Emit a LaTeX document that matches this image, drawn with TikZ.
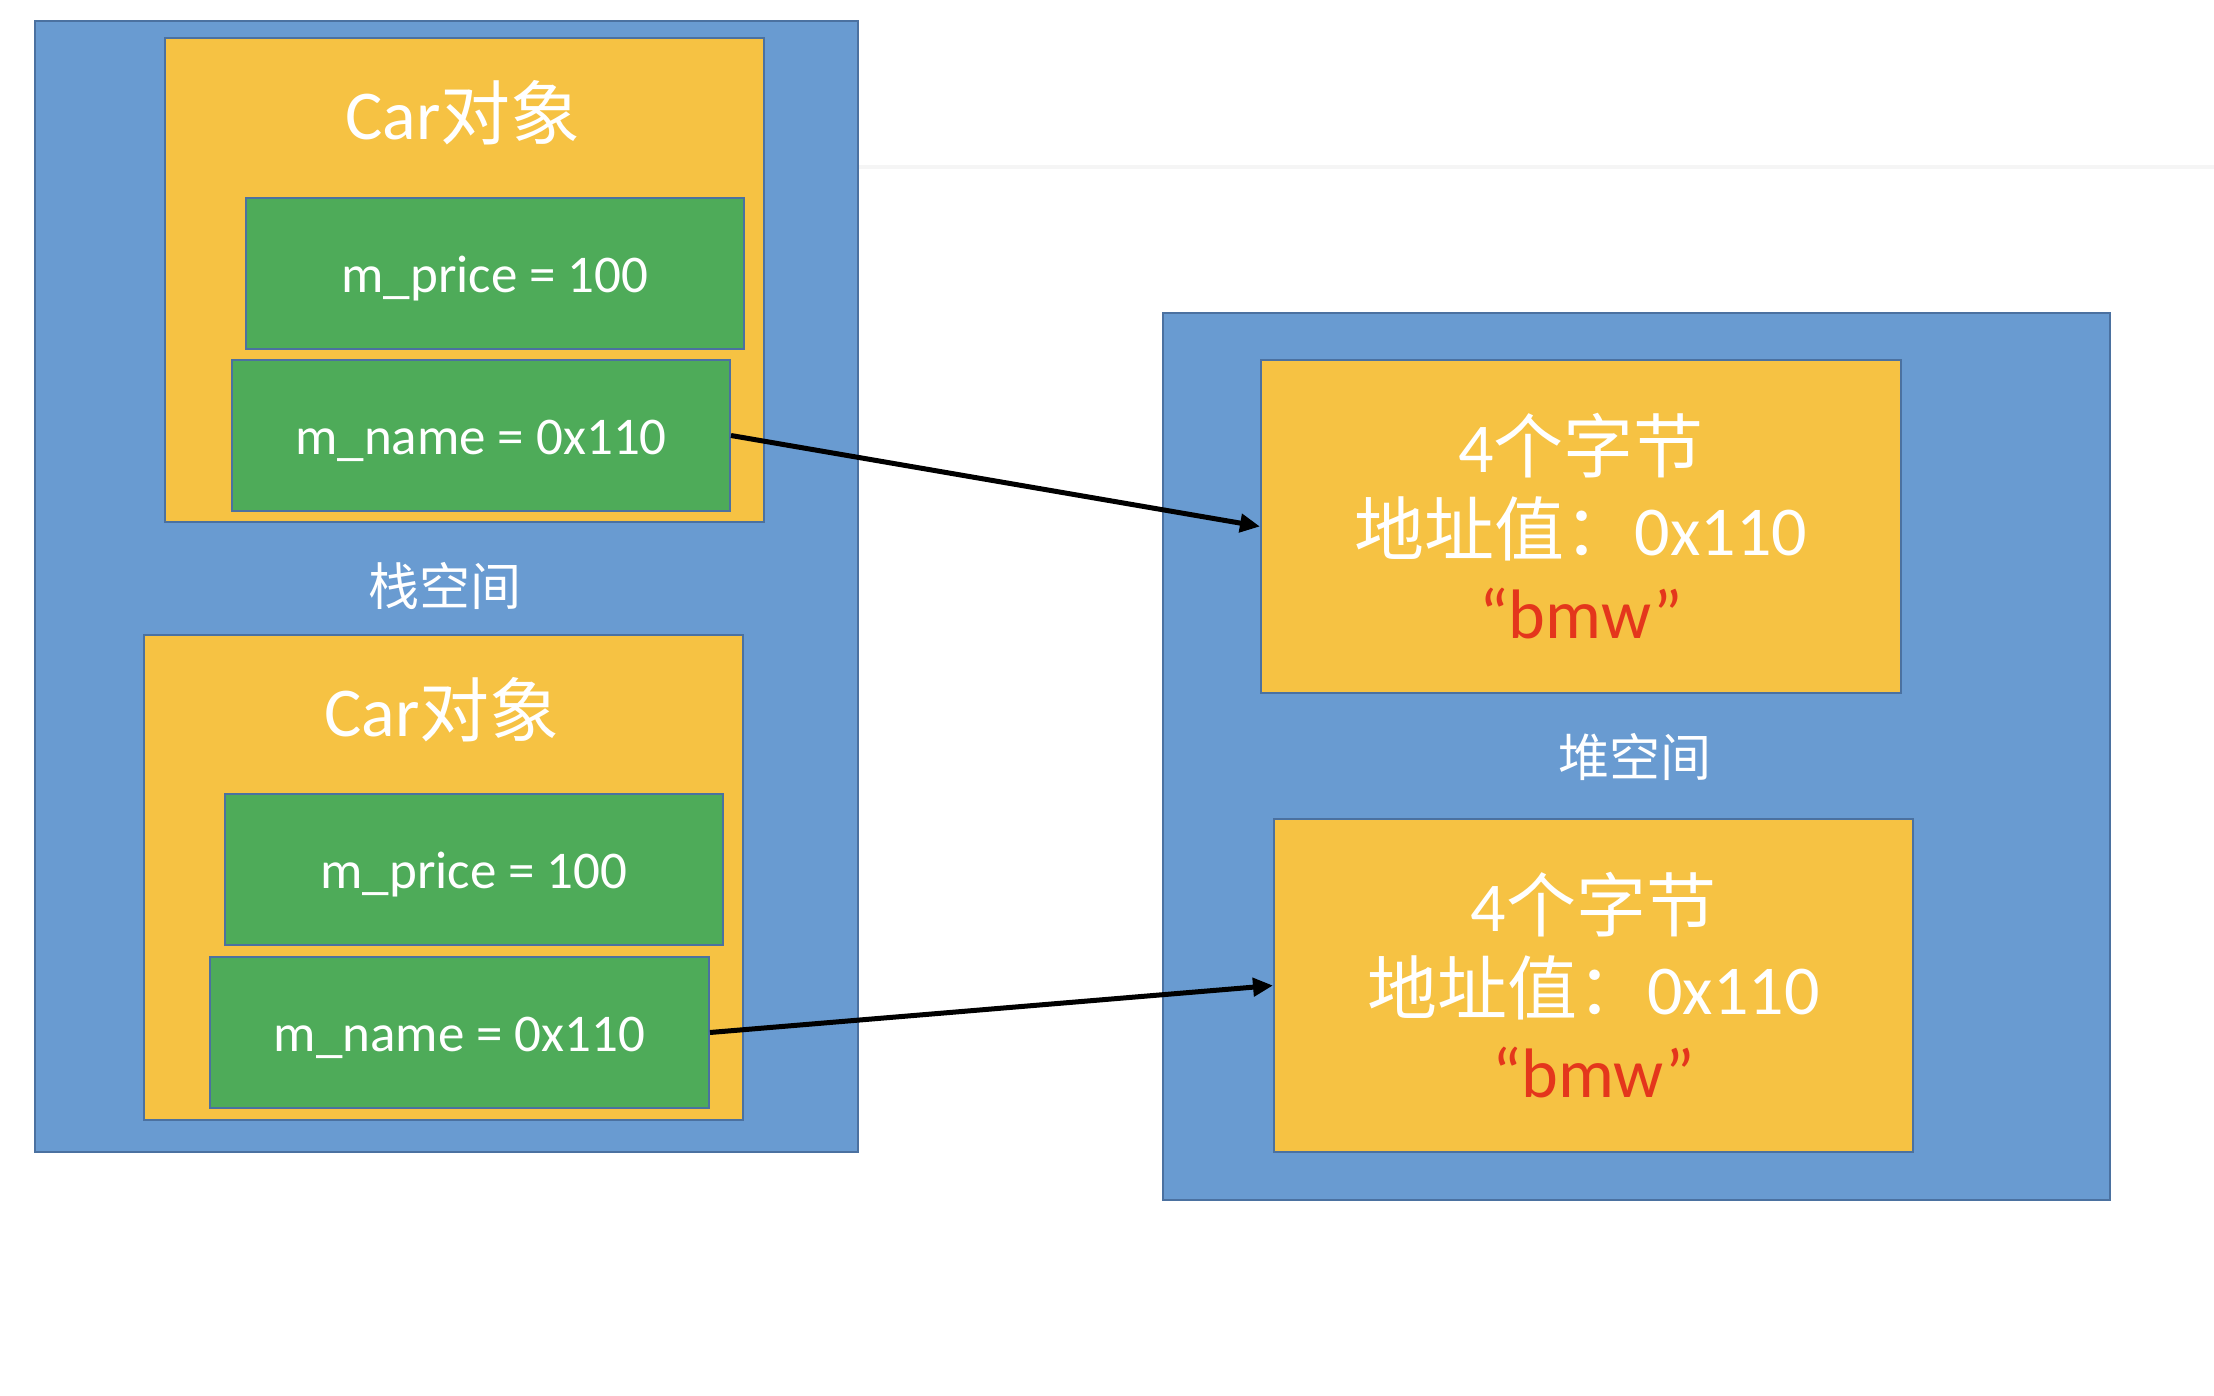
\documentclass[tikz,border=0pt]{standalone}
\usepackage{fontspec}
\setmainfont{Carlito}
\newfontfamily\cjk{Noto Sans CJK SC}
\usetikzlibrary{arrows.meta}
\definecolor{bluebg}{HTML}{699BD1}
\definecolor{yel}{HTML}{F6C243}
\definecolor{grn}{HTML}{4EAB59}
\definecolor{edge}{HTML}{4B71A0}
\definecolor{redtxt}{HTML}{E4361C}
\begin{document}
\begin{tikzpicture}[x=1pt,y=-1pt,
  box/.style={draw=edge, line width=2pt, inner sep=0pt, rectangle},
  space/.style={box, fill=bluebg},
  obj/.style={box, fill=yel},
  field/.style={box, fill=grn},
  ftxt/.style={text=white, inner sep=0pt, yshift=-5pt, font=\fontsize{53}{60}\selectfont},
  heapobj/.style={box, fill=yel, text=white, align=center, font=\fontsize{70}{83}\selectfont},
  ttl/.style={text=white, inner sep=0pt, font=\fontsize{70}{74}\selectfont},
  lbl/.style={text=white, inner sep=0pt, font=\fontsize{51}{54}\selectfont\cjk},
  ptr/.style={line width=5pt, -{Triangle[length=20pt,width=18pt]}}]
\useasboundingbox (0,0) rectangle (2214,1396);
\fill[white] (0,0) rectangle (2214,1396);
\draw[black!4, line width=4pt] (858,167) -- (2214,167);
% stack
\node[space, minimum width=823pt, minimum height=1131pt] (stack) at (446.5,586.5) {};
\node[obj, minimum width=599pt, minimum height=484pt] (car1) at (464.5,280) {};
\node[ttl] (t1) at (463,113) {Car{\cjk 对象}};
\node[field, minimum width=498pt, minimum height=151pt] (p1) at (495,273.5) {};
\node[ftxt] (p1t) at (p1.center) {m\_price = 100};
\node[field, minimum width=498pt, minimum height=151pt] (n1) at (481,435.5) {};
\node[ftxt] (n1t) at (n1.center) {m\_name = 0x110};
\node[lbl] (sl) at (445,586) {栈空间};
\node[obj, minimum width=599pt, minimum height=485pt] (car2) at (443.5,877.5) {};
\node[ttl] (t2) at (442,710) {Car{\cjk 对象}};
\node[field, minimum width=498pt, minimum height=151pt] (p2) at (474,869.5) {};
\node[ftxt] (p2t) at (p2.center) {m\_price = 100};
\node[field, minimum width=499pt, minimum height=151pt] (n2) at (459.5,1032.5) {};
\node[ftxt] (n2t) at (n2.center) {m\_name = 0x110};
% heap
\node[space, minimum width=947pt, minimum height=887pt] (heap) at (1636.5,756.5) {};
\node[heapobj, minimum width=640pt, minimum height=333pt] (h1) at (1581,526.5)
  {4{\cjk 个字节}\\{\cjk 地址值：}0x110\\\textcolor{redtxt}{“bmw”}};
\node[lbl] (hl) at (1635,757) {堆空间};
\node[heapobj, minimum width=639pt, minimum height=333pt] (h2) at (1593.5,985.5)
  {4{\cjk 个字节}\\{\cjk 地址值：}0x110\\\textcolor{redtxt}{“bmw”}};
% pointers
\draw[ptr] (n1.east) -- (h1.west);
\draw[ptr] (n2.east) -- (h2.west);
\end{tikzpicture}
\end{document}
